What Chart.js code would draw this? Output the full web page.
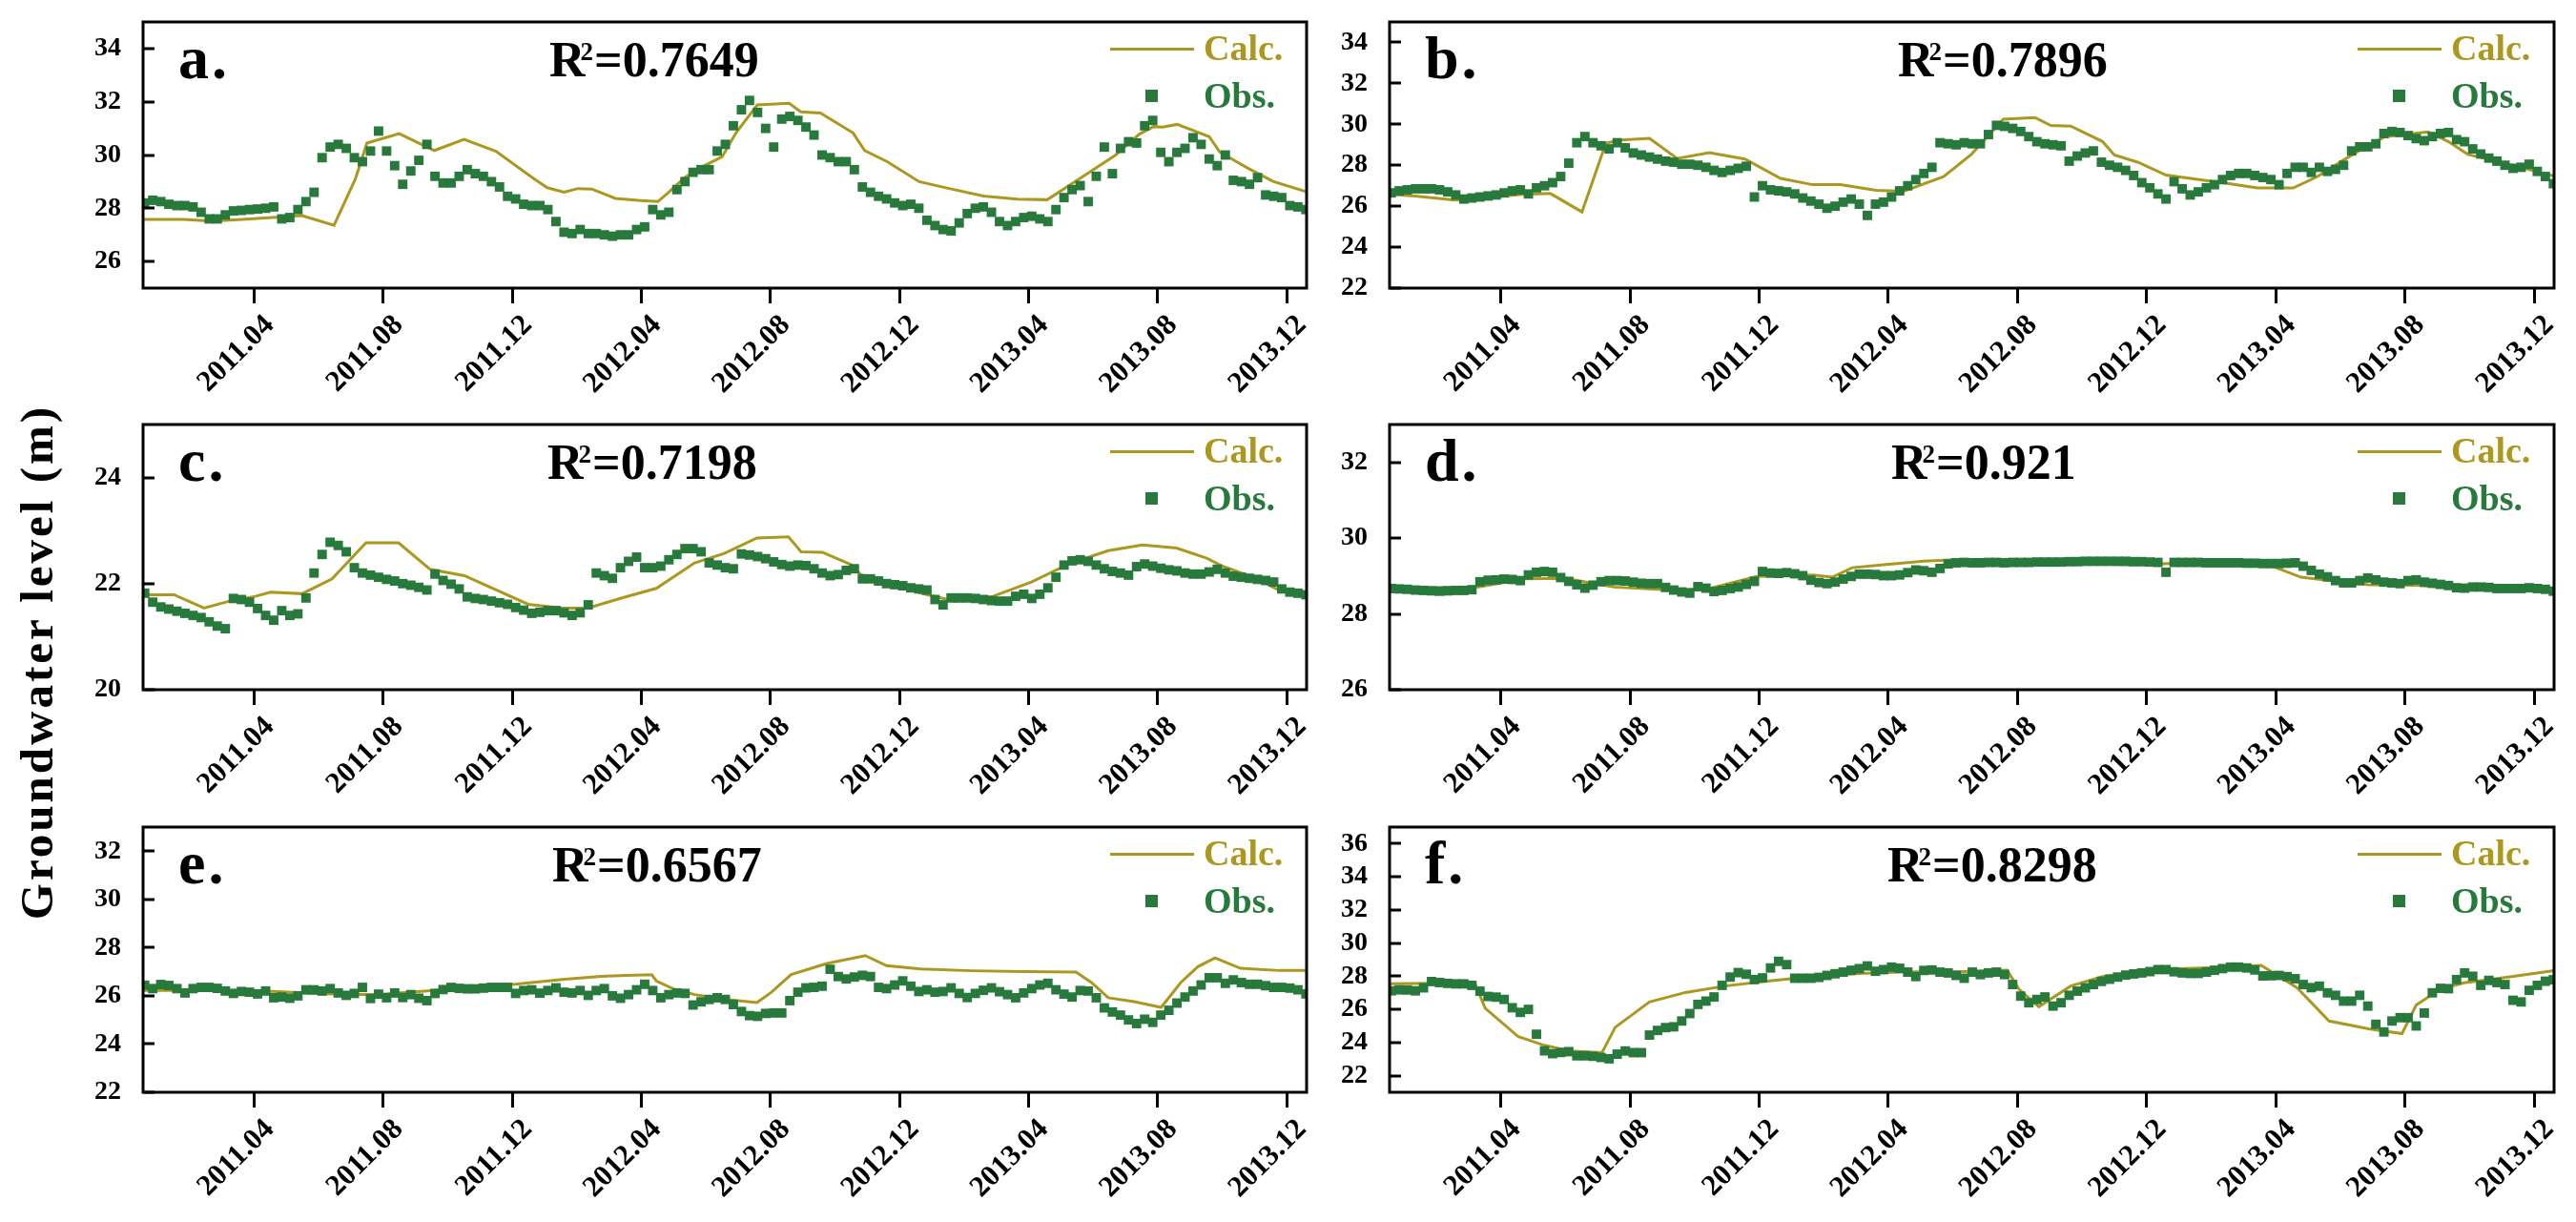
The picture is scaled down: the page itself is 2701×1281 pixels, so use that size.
<!DOCTYPE html>
<html>
<head>
<meta charset="utf-8">
<script src="https://cdn.jsdelivr.net/npm/chart.js@4.4.1/dist/chart.umd.min.js"></script>
<style>
html,body{margin:0;padding:0;background:#fff;}
#page{position:relative;width:2701px;height:1281px;overflow:hidden;background:#fff;}
canvas{position:absolute;display:block;}
.t{position:absolute;white-space:nowrap;line-height:1;font-family:"Liberation Serif","Times New Roman",serif;font-weight:bold;}
</style>
</head>
<body>
<div id="page"></div>
<script>
// ---------------- DATA ----------------
// x axis unit: months since 2011.01 (2011.04 = 3, ..., 2013.12 = 35)
const xTickPos = [3, 7, 11, 15, 19, 23, 27, 31, 35];
const xTickLabels = ['2011.04','2011.08','2011.12','2012.04','2012.08','2012.12','2013.04','2013.08','2013.12'];

const yTicksA = [26, 28, 30, 32, 34];
const yTicksB = [22, 24, 26, 28, 30, 32, 34];
const yTicksC = [20, 22, 24];
const yTicksD = [26, 28, 30, 32];
const yTicksE = [22, 24, 26, 28, 30, 32];
const yTicksF = [22, 24, 26, 28, 30, 32, 34, 36];

const panelLetters = ['a.', 'b.', 'c.', 'd.', 'e.', 'f.'];
const r2Values = ['0.7649', '0.7896', '0.7198', '0.921', '0.6567', '0.8298'];
const seriesNames = ['Calc.', 'Obs.'];
const yTitle = 'Groundwater level (m)';

// observation sample times (months)
const obsTime = [
-0.40,-0.15,0.10,0.35,0.60,0.85,1.10,1.35,1.60,1.85,2.10,2.35,
2.60,2.85,3.10,3.35,3.60,3.85,4.10,4.35,4.60,4.85,5.10,5.35,
5.60,5.85,6.10,6.35,6.60,6.85,7.10,7.35,7.60,7.85,8.10,8.35,
8.60,8.85,9.10,9.35,9.60,9.85,10.10,10.35,10.60,10.85,11.10,11.35,
11.60,11.85,12.10,12.35,12.60,12.85,13.10,13.35,13.60,13.85,14.10,14.35,
14.60,14.85,15.10,15.35,15.60,15.85,16.10,16.35,16.60,16.85,17.10,17.35,
17.60,17.85,18.10,18.35,18.60,18.85,19.10,19.35,19.60,19.85,20.10,20.35,
20.60,20.85,21.10,21.35,21.60,21.85,22.10,22.35,22.60,22.85,23.10,23.35,
23.60,23.85,24.10,24.35,24.60,24.85,25.10,25.35,25.60,25.85,26.10,26.35,
26.60,26.85,27.10,27.35,27.60,27.85,28.10,28.35,28.60,28.85,29.10,29.35,
29.60,29.85,30.10,30.35,30.60,30.85,31.10,31.35,31.60,31.85,32.10,32.35,
32.60,32.85,33.10,33.35,33.60,33.85,34.10,34.35,34.60,34.85,35.10,35.35,
35.60];

const obsA = [
28.2,28.3,28.25,28.15,28.1,28.1,28.05,27.85,27.6,27.6,27.75,27.9,
27.92,27.95,27.97,28.0,28.05,27.6,27.65,27.95,28.25,28.6,29.9,30.3,
30.4,30.25,29.9,29.75,30.15,30.9,30.15,29.6,28.9,29.4,29.8,30.4,
29.2,28.95,28.95,29.2,29.45,29.3,29.2,29.0,28.8,28.45,28.35,28.15,
28.1,28.1,27.95,27.5,27.1,27.05,27.2,27.05,27.05,27.0,26.95,27.0,
27.0,27.2,27.3,27.95,27.75,27.85,28.7,29.0,29.35,29.45,29.45,30.15,
30.4,31.1,31.7,32.05,31.6,31.0,30.3,31.35,31.45,31.3,31.05,30.75,
30.0,29.9,29.75,29.75,29.45,28.8,28.6,28.45,28.35,28.2,28.1,28.15,
28.0,27.55,27.35,27.2,27.15,27.45,27.8,28.0,28.05,27.85,27.5,27.35,
27.5,27.65,27.7,27.6,27.5,27.95,28.4,28.7,28.85,28.25,29.2,30.3,
29.3,30.25,30.5,30.45,31.1,31.3,30.1,29.75,30.1,30.25,30.65,30.4,
29.85,29.6,30.0,29.05,29.0,28.9,29.15,28.5,28.45,28.4,28.1,28.05,
27.95];
const obsB = [
26.65,26.75,26.8,26.85,26.85,26.85,26.8,26.7,26.55,26.35,26.4,26.45,
26.5,26.55,26.65,26.75,26.8,26.6,26.9,27.0,27.15,27.45,28.1,29.1,
29.4,29.1,28.95,28.8,29.1,28.85,28.6,28.5,28.4,28.3,28.2,28.15,
28.05,28.05,28.0,27.9,27.75,27.65,27.75,27.85,27.95,26.45,27.0,26.8,
26.75,26.7,26.6,26.4,26.25,26.1,25.9,26.0,26.2,26.35,26.1,25.55,
26.1,26.2,26.45,26.75,27.0,27.3,27.6,27.9,29.1,29.05,29.0,29.1,
29.05,29.05,29.5,29.95,29.9,29.8,29.65,29.4,29.15,29.05,29.0,28.95,
28.2,28.45,28.6,28.7,28.15,28.0,27.9,27.75,27.5,27.15,26.9,26.6,
26.35,27.2,26.85,26.55,26.7,26.9,27.05,27.3,27.5,27.6,27.6,27.5,
27.4,27.3,27.05,27.6,27.9,27.9,27.65,27.9,27.7,27.8,28.0,28.7,
28.9,28.9,29.05,29.55,29.65,29.6,29.45,29.3,29.2,29.4,29.55,29.6,
29.25,29.15,28.8,28.55,28.35,28.2,28.0,27.85,27.9,28.05,27.7,27.45,
27.1];
const obsC = [
21.82,21.65,21.56,21.52,21.48,21.44,21.4,21.36,21.28,21.2,21.15,21.72,
21.7,21.65,21.53,21.4,21.31,21.49,21.4,21.43,21.73,22.2,22.55,22.78,
22.72,22.6,22.3,22.2,22.16,22.12,22.08,22.05,22.0,21.97,21.93,21.88,
22.18,22.06,21.99,21.9,21.75,21.72,21.7,21.67,21.64,21.61,21.55,21.5,
21.44,21.46,21.49,21.49,21.45,21.4,21.45,21.6,22.2,22.15,22.1,22.3,
22.42,22.5,22.3,22.3,22.33,22.45,22.55,22.66,22.66,22.6,22.39,22.35,
22.3,22.28,22.56,22.54,22.51,22.47,22.41,22.36,22.33,22.35,22.34,22.28,
22.2,22.15,22.17,22.25,22.28,22.09,22.09,22.05,22.0,21.98,21.96,21.92,
21.9,21.88,21.7,21.6,21.73,21.73,21.73,21.72,21.7,21.68,21.67,21.67,
21.76,21.8,21.72,21.8,21.92,22.12,22.35,22.43,22.45,22.42,22.35,22.28,
22.23,22.2,22.16,22.32,22.37,22.33,22.29,22.26,22.24,22.2,22.18,22.18,
22.22,22.27,22.2,22.14,22.12,22.1,22.08,22.06,22.03,21.9,21.84,21.82,
21.79];
const obsD = [
28.67,28.66,28.65,28.63,28.62,28.61,28.6,28.61,28.62,28.62,28.64,28.85,
28.89,28.9,28.92,28.91,28.88,29.03,29.1,29.12,29.1,28.96,28.86,28.77,
28.68,28.76,28.85,28.88,28.88,28.87,28.84,28.81,28.8,28.8,28.7,28.63,
28.58,28.55,28.72,28.68,28.59,28.62,28.67,28.71,28.78,28.86,29.12,29.08,
29.07,29.09,29.06,29.01,28.89,28.83,28.8,28.84,28.92,28.99,29.05,29.05,
29.04,29.01,29.01,29.03,29.09,29.16,29.14,29.1,29.2,29.32,29.35,29.36,
29.35,29.35,29.36,29.36,29.35,29.36,29.36,29.36,29.37,29.37,29.37,29.37,
29.38,29.38,29.39,29.39,29.39,29.39,29.39,29.39,29.38,29.38,29.37,29.36,
29.1,29.36,29.36,29.36,29.36,29.35,29.35,29.35,29.35,29.35,29.34,29.34,
29.33,29.33,29.33,29.34,29.35,29.26,29.15,29.05,28.98,28.88,28.82,28.82,
28.88,28.95,28.9,28.84,28.82,28.8,28.88,28.9,28.84,28.81,28.78,28.75,
28.69,28.68,28.71,28.71,28.7,28.67,28.67,28.67,28.67,28.69,28.67,28.65,
28.6];
const obsE = [
26.44,26.3,26.47,26.43,26.3,26.12,26.3,26.35,26.35,26.31,26.2,26.1,
26.18,26.15,26.08,26.2,25.92,25.95,25.9,26.0,26.25,26.25,26.2,26.3,
26.12,26.02,26.1,26.35,25.89,26.07,25.92,26.12,25.93,26.05,25.9,25.8,
26.1,26.26,26.35,26.31,26.29,26.29,26.32,26.35,26.35,26.35,26.1,26.22,
26.25,26.11,26.22,26.33,26.15,26.12,26.22,26.02,26.22,26.3,26.0,25.9,
26.05,26.25,26.48,26.22,25.92,26.05,26.12,26.1,25.62,25.75,25.85,25.92,
25.85,25.64,25.35,25.18,25.15,25.27,25.29,25.29,25.8,26.15,26.33,26.35,
26.4,27.1,26.8,26.7,26.78,26.85,26.8,26.35,26.3,26.45,26.62,26.4,
26.18,26.25,26.15,26.18,26.33,26.1,25.93,26.1,26.23,26.33,26.17,26.05,
25.92,26.12,26.3,26.45,26.52,26.25,26.07,25.95,26.22,26.2,25.92,25.5,
25.33,25.2,25.0,24.85,25.03,24.9,25.2,25.4,25.7,25.95,26.2,26.45,
26.75,26.75,26.52,26.66,26.55,26.48,26.48,26.42,26.35,26.35,26.32,26.25,
26.08];
const obsF = [
27.12,27.18,27.17,27.12,27.3,27.68,27.62,27.57,27.54,27.54,27.45,27.1,
26.78,26.74,26.6,26.1,25.82,26.0,24.5,23.5,23.33,23.4,23.45,23.2,
23.2,23.17,23.1,23.02,23.3,23.49,23.39,23.39,24.45,24.73,24.9,24.95,
25.3,25.75,26.3,26.5,26.75,27.45,27.95,28.22,28.12,27.8,27.9,28.5,
28.9,28.7,27.88,27.88,27.88,27.93,28.05,28.15,28.25,28.36,28.46,28.62,
28.3,28.4,28.55,28.48,28.25,27.98,28.35,28.38,28.25,28.2,28.05,27.88,
28.25,28.1,28.2,28.25,28.1,27.5,26.8,26.4,26.6,26.75,26.2,26.4,
26.85,27.1,27.3,27.5,27.69,27.82,27.95,28.07,28.14,28.2,28.28,28.4,
28.4,28.27,28.2,28.17,28.17,28.25,28.36,28.46,28.55,28.55,28.5,28.38,
28.02,28.03,28.05,27.98,27.85,27.5,27.31,27.4,27.0,26.85,26.5,26.5,
26.85,26.2,25.1,24.64,25.3,25.5,25.5,25.0,25.78,27.0,27.27,27.25,
27.8,28.2,28.0,27.45,27.75,27.62,27.5,26.55,26.45,27.15,27.45,27.7,
27.79];

// calculated series: vertex times (months) and levels (m)
const calcTimeA = [-0.45,0.78,1.71,2.63,3.56,4.48,5.47,6.13,6.49,7.49,8.58,9.5,10.49,11.61,12.08,12.6,13.03,13.46,14.19,14.98,15.51,15.81,16.34,16.81,17.5,17.93,18.59,19.58,19.94,20.55,21.56,21.92,22.62,23.61,24.54,25.6,26.65,27.58,28.37,29.69,30.42,30.88,31.15,31.61,32.6,32.93,33.79,34.58,35.62];
const calcLevelA = [27.58,27.58,27.52,27.58,27.65,27.72,27.36,29.1,30.45,30.8,30.17,30.59,30.14,29.16,28.77,28.6,28.74,28.72,28.37,28.29,28.25,28.56,29.15,29.51,29.93,30.83,31.88,31.94,31.62,31.58,30.83,30.17,29.75,29.0,28.74,28.46,28.34,28.32,28.94,29.99,30.77,31.07,31.05,31.15,30.69,30.11,29.51,29.01,28.62];
const calcTimeB = [-0.45,0.34,1.57,2.8,3.66,4.53,5.51,6.25,6.74,7.6,8.46,9.45,10.56,11.66,12.65,13.51,14.62,15.48,16.71,17.57,18.56,19.54,20.03,20.65,21.63,22.0,22.74,23.6,24.46,25.45,26.43,27.54,28.28,29.38,30.37,31.72,32.34,32.95,33.57,34.55,35.62];
const calcLevelB = [26.58,26.5,26.3,26.45,26.58,26.62,25.72,29.08,29.23,29.31,28.33,28.61,28.3,27.36,27.05,27.05,26.78,26.73,27.44,28.53,30.25,30.33,29.94,29.91,29.16,28.5,28.14,27.52,27.33,27.13,26.89,26.89,27.44,28.53,29.39,29.63,29.16,28.53,28.3,27.91,27.47];
const calcTimeC = [-0.45,0.51,1.44,2.23,3.03,3.5,4.48,5.41,6.46,7.47,8.45,9.51,11.49,12.55,13.34,14.4,15.46,16.65,17.57,18.58,19.56,19.95,20.61,21.49,21.8,22.86,23.66,24.71,25.9,27.09,28.28,29.47,30.53,31.59,32.52,33.05,33.97,34.76,35.62];
const calcLevelC = [21.79,21.79,21.54,21.67,21.76,21.84,21.81,22.09,22.77,22.77,22.27,22.15,21.61,21.54,21.54,21.73,21.91,22.39,22.57,22.86,22.88,22.6,22.59,22.36,22.17,22.0,21.82,21.67,21.76,22.03,22.38,22.62,22.73,22.67,22.48,22.32,22.12,21.88,21.79];
const calcTimeD = [-0.45,2.31,3.79,5.02,5.76,6.5,8.22,9.45,10.93,12.65,13.26,13.88,14.86,16.09,17.08,18.31,20.03,22.49,23.72,24.95,26.92,27.78,28.65,29.88,31.35,32.83,35.62];
const calcLevelD = [28.67,28.71,28.93,28.94,28.82,28.71,28.63,28.67,28.99,29.03,28.97,29.22,29.3,29.39,29.43,29.39,29.35,29.3,29.33,29.35,29.25,28.97,28.88,28.77,28.76,28.67,28.63];
const calcTimeE = [-0.45,1.7,3.56,5.14,6.73,8.58,9.9,11.09,12.55,13.74,14.53,15.32,15.46,15.99,16.65,17.57,18.58,19.03,19.64,20.75,21.94,22.6,23.66,25.24,26.83,28.47,28.95,29.47,30.27,31.11,31.72,32.25,32.78,33.57,34.76,35.62];
const calcLevelE = [26.22,26.22,26.18,26.09,26.05,26.22,26.39,26.48,26.68,26.81,26.85,26.88,26.62,26.29,26.05,25.86,25.72,26.15,26.88,27.34,27.67,27.25,27.11,27.04,27.01,26.99,26.55,25.92,25.76,25.52,26.55,27.21,27.57,27.14,27.05,27.05];
const calcTimeF = [-0.45,2.19,2.51,3.54,4.28,5.14,6.13,6.54,7.6,8.71,9.94,11.17,12.65,14.12,15.6,17.08,18.68,19.05,19.66,20.65,21.63,22.74,23.97,24.95,26.55,27.66,28.65,29.88,30.91,31.35,32.09,32.83,34.31,35.62];
const calcLevelF = [27.54,27.6,26.07,24.35,23.87,23.49,23.39,24.92,26.45,27.02,27.41,27.69,27.98,28.17,28.27,28.27,28.36,27.21,26.16,27.41,27.98,28.27,28.46,28.51,28.65,27.31,25.3,24.83,24.54,26.26,27.21,27.6,27.98,28.34];

// y axis ranges
const yRangeA = [25, 35], yRangeB = [22, 35], yRangeC = [20, 25];
const yRangeD = [26, 33], yRangeE = [22, 33], yRangeF = [21, 37];
const xRange = [-0.45, 35.62];

// ---------------- LAYOUT / STYLE ----------------
const CALC_COLOR = '#AC981F';
const OBS_COLOR = '#27793C';
const FONT = '"Liberation Serif", "Times New Roman", serif';
const PAD = {left: 80, top: 10, right: 20, bottom: 130};
const BOXES = [
  {l: 150,  t: 23,  r: 1370, b: 302, r2x: 426},
  {l: 1457, t: 23,  r: 2678, b: 302, r2x: 533},
  {l: 150,  t: 445, r: 1370, b: 723, r2x: 424},
  {l: 1457, t: 445, r: 2678, b: 723, r2x: 526},
  {l: 150,  t: 867, r: 1370, b: 1145, r2x: 429},
  {l: 1457, t: 867, r: 2678, b: 1145, r2x: 522}
];

const PANELS = [
  {obs: obsA, ct: calcTimeA, cl: calcLevelA, yr: yRangeA, yt: yTicksA},
  {obs: obsB, ct: calcTimeB, cl: calcLevelB, yr: yRangeB, yt: yTicksB},
  {obs: obsC, ct: calcTimeC, cl: calcLevelC, yr: yRangeC, yt: yTicksC},
  {obs: obsD, ct: calcTimeD, cl: calcLevelD, yr: yRangeD, yt: yTicksD},
  {obs: obsE, ct: calcTimeE, cl: calcLevelE, yr: yRangeE, yt: yTicksE},
  {obs: obsF, ct: calcTimeF, cl: calcLevelF, yr: yRangeF, yt: yTicksF}
];

const page = document.getElementById('page');

const framePlugin = {
  id: 'frame',
  afterDatasetsDraw(chart) {
    const {ctx, chartArea: a} = chart;
    const y = chart.scales.y;
    ctx.save();
    ctx.strokeStyle = '#000';
    ctx.lineWidth = 3;
    ctx.strokeRect(a.left, a.top, a.right - a.left, a.bottom - a.top);
    ctx.beginPath();
    y.ticks.forEach(t => {
      const py = Math.round(y.getPixelForValue(t.value));
      ctx.moveTo(a.left, py);
      ctx.lineTo(a.left + 12, py);
    });
    ctx.stroke();
    ctx.restore();
  }
};

function addText(parent, html, left, baseline, size, color, extra) {
  const d = document.createElement('div');
  d.className = 't';
  d.style.left = left + 'px';
  d.style.top = (baseline - 0.8375 * size) + 'px';
  d.style.fontSize = size + 'px';
  d.style.color = color;
  if (extra) Object.assign(d.style, extra);
  d.innerHTML = html;
  parent.appendChild(d);
  return d;
}

function makePanel(p, box, idx) {
  const W = box.r - box.l + PAD.left + PAD.right;
  const H = box.b - box.t + PAD.top + PAD.bottom;
  const cv = document.createElement('canvas');
  cv.width = W; cv.height = H;
  cv.style.left = (box.l - PAD.left) + 'px';
  cv.style.top = (box.t - PAD.top) + 'px';
  cv.style.width = W + 'px'; cv.style.height = H + 'px';
  page.appendChild(cv);

  new Chart(cv, {
    type: 'scatter',
    data: {
      datasets: [
        {
          label: seriesNames[1],
          data: p.obs.map((v, i) => ({x: obsTime[i], y: v})),
          pointStyle: 'rect',
          pointRadius: 7,
          backgroundColor: OBS_COLOR,
          borderWidth: 0,
          order: 0
        },
        {
          label: seriesNames[0],
          data: p.ct.map((t, i) => ({x: t, y: p.cl[i]})),
          showLine: true,
          borderColor: CALC_COLOR,
          borderWidth: 3,
          pointRadius: 0,
          tension: 0,
          fill: false,
          order: 1
        }
      ]
    },
    options: {
      responsive: false,
      animation: false,
      devicePixelRatio: 1,
      events: [],
      layout: {padding: {left: 0, top: PAD.top, right: PAD.right, bottom: 0}},
      plugins: {legend: {display: false}, tooltip: {enabled: false}, title: {display: false}},
      scales: {
        x: {
          type: 'linear',
          min: xRange[0], max: xRange[1],
          afterBuildTicks: s => { s.ticks = xTickPos.map(v => ({value: v})); },
          afterFit: s => { s.height = PAD.bottom; s.paddingLeft = 0; s.paddingRight = 0; },
          ticks: {
            autoSkip: false, maxRotation: 45, minRotation: 45,
            padding: 5, labelOffset: 16, color: '#000',
            font: {family: FONT, weight: 'bold', size: 31},
            callback: (v, i) => xTickLabels[i]
          },
          grid: {display: true, drawOnChartArea: false, drawTicks: true, tickLength: 16, lineWidth: 3, color: '#000'},
          border: {display: false}
        },
        y: {
          type: 'linear',
          min: p.yr[0], max: p.yr[1],
          afterBuildTicks: s => { s.ticks = p.yt.map(v => ({value: v})); },
          afterFit: s => { s.width = PAD.left; s.paddingTop = 0; s.paddingBottom = 0; },
          ticks: {padding: 15, color: '#000', font: {family: FONT, weight: 'bold', size: 28}},
          grid: {display: false},
          border: {display: false}
        }
      }
    },
    plugins: [framePlugin]
  });

  // panel letter
  addText(page, panelLetters[idx], box.l + 37, box.t + 60, 64, '#000', {letterSpacing: '3px'});
  // R^2
  addText(page, 'R<span style="font-size:27px;position:relative;top:-17px;margin-left:-5px;margin-right:1px">2</span>=' + r2Values[idx],
          box.l + box.r2x, box.t + 58, 52, '#000');
  // legend
  const lineEl = document.createElement('div');
  Object.assign(lineEl.style, {position: 'absolute', left: (box.r - 206) + 'px', top: (box.t + 26.5) + 'px',
    width: '88px', height: '3.5px', background: CALC_COLOR});
  page.appendChild(lineEl);
  const sq = document.createElement('div');
  Object.assign(sq.style, {position: 'absolute', left: (box.r - 169) + 'px', top: (box.t + 71) + 'px',
    width: '13px', height: '13px', background: OBS_COLOR});
  page.appendChild(sq);
  addText(page, seriesNames[0], box.r - 108, box.t + 40, 38, CALC_COLOR);
  addText(page, seriesNames[1], box.r - 108, box.t + 90, 38, OBS_COLOR);
}

PANELS.forEach((p, i) => makePanel(p, BOXES[i], i));

// y axis title
const yt = document.createElement('div');
yt.className = 't';
Object.assign(yt.style, {
  left: (39 - 300) + 'px', top: (694 - 30) + 'px', width: '600px', height: '60px',
  lineHeight: '60px', fontSize: '49px', textAlign: 'center', color: '#000',
  letterSpacing: '3px', transform: 'rotate(-90deg)', transformOrigin: '50% 50%'
});
yt.textContent = yTitle;
page.appendChild(yt);
</script>
</body>
</html>
